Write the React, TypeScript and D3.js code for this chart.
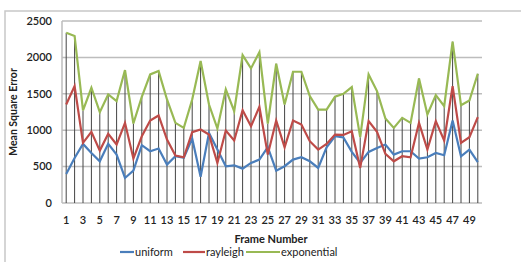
import React from 'react';
import * as d3 from 'd3';

// frame numbers 1..50
const frames = d3.range(1, 51);

const uniform = [
  399, 619, 812, 688, 573, 812, 665, 344, 445, 794,
  711, 748, 528, 642, 620, 885, 360, 963, 734, 505,
  518, 472, 550, 596, 766, 445, 505, 596, 628, 573,
  482, 766, 917, 900, 702, 550, 702, 757, 803, 665,
  711, 711, 610, 628, 688, 656, 1133, 642, 734, 560,
];

const rayleigh = [
  1353, 1606, 826, 977, 720, 950, 803, 1101, 610, 917,
  1133, 1202, 872, 651, 628, 972, 1009, 940, 550, 995,
  858, 1275, 1055, 1321, 665, 1133, 766, 1133, 1078, 849,
  734, 812, 940, 935, 986, 482, 1124, 977, 674, 573,
  642, 628, 1101, 734, 1124, 858, 1606, 826, 904, 1179,
];

const exponential = [
  2339, 2294, 1271, 1583, 1248, 1491, 1399, 1826, 1092, 1459,
  1766, 1812, 1422, 1101, 1032, 1422, 1950, 1353, 1023, 1560,
  1261, 2032, 1849, 2073, 1092, 1913, 1353, 1803, 1803, 1468,
  1284, 1284, 1459, 1500, 1592, 904, 1766, 1537, 1161, 1032,
  1170, 1101, 1711, 1216, 1482, 1330, 2216, 1344, 1408, 1775,
];

const yTicks = [0, 500, 1000, 1500, 2000, 2500];

const series = [
  { name: 'uniform', values: uniform, color: '#4a7ebb', lx: 120, len: 14 },
  { name: 'rayleigh', values: rayleigh, color: '#be4b48', lx: 183, len: 22 },
  { name: 'exponential', values: exponential, color: '#98b954', lx: 246, len: 34 },
];

const font = 'Lato, "Open Sans", sans-serif';

export default function App() {
  const x = d3.scaleBand<number>().domain(frames).range([62, 482]).padding(0);
  const cx = (f: number) => (x(f) as number) + x.bandwidth() / 2;
  const y = d3.scaleLinear().domain([0, 2500]).range([203, 21]);

  const line = d3
    .line<number>()
    .x((_, i) => cx(frames[i]))
    .y((d) => y(d));

  return (
    <svg
      width={521}
      height={262}
      style={{ position: 'absolute', left: 0, top: 0, background: '#fff' }}
    >
      <rect x={5} y={11} width={530} height={270} fill="#fff" stroke="#c8c8c8" strokeWidth={1.5} />

      {/* horizontal gridlines */}
      {yTicks.map((t) => (
        <line key={t} x1={62} x2={482} y1={y(t)} y2={y(t)} stroke="#bdbdbd" strokeWidth={1.5} />
      ))}
      <line x1={62} x2={62} y1={y(2500)} y2={y(0)} stroke="#bdbdbd" strokeWidth={1.5} />

      {/* drop lines */}
      {frames.map((f, i) => (
        <line
          key={f}
          x1={cx(f)}
          x2={cx(f)}
          y1={y(d3.max(series, (s) => s.values[i]) as number)}
          y2={y(0)}
          stroke="#444"
          strokeWidth={1}
        />
      ))}

      {series.map((s) => (
        <path key={s.name} d={line(s.values) as string} fill="none" stroke={s.color} strokeWidth={2.2} />
      ))}

      {/* y axis labels */}
      {yTicks.map((t) => (
        <text
          key={t}
          x={52}
          y={y(t)}
          dy="0.35em"
          textAnchor="end"
          fontFamily={font}
          fontSize={11}
          fontWeight={600}
          fill="#222"
        >
          {t}
        </text>
      ))}
      <text
        transform={`translate(17,112) rotate(-90)`}
        textAnchor="middle"
        fontFamily={font}
        fontSize={10.5}
        fontWeight={700}
        fill="#222"
      >
        Mean Square Error
      </text>

      {/* x axis labels */}
      {frames
        .filter((f) => f % 2 === 1)
        .map((f) => (
          <text
            key={f}
            x={cx(f)}
            y={224}
            textAnchor="middle"
            fontFamily={font}
            fontSize={11}
            fontWeight={600}
            fill="#222"
          >
            {f}
          </text>
        ))}
      <text x={271} y={243} textAnchor="middle" fontFamily={font} fontSize={11} fontWeight={700} fill="#222">
        Frame Number
      </text>

      {/* legend */}
      {series.map((s) => (
        <g key={s.name}>
          <line x1={s.lx} x2={s.lx + s.len} y1={252} y2={252} stroke={s.color} strokeWidth={2.2} />
          <text x={s.lx + s.len + 1} y={252.5} dy="0.35em" fontFamily={font} fontSize={11} fill="#222">
            {s.name}
          </text>
        </g>
      ))}
    </svg>
  );
}
